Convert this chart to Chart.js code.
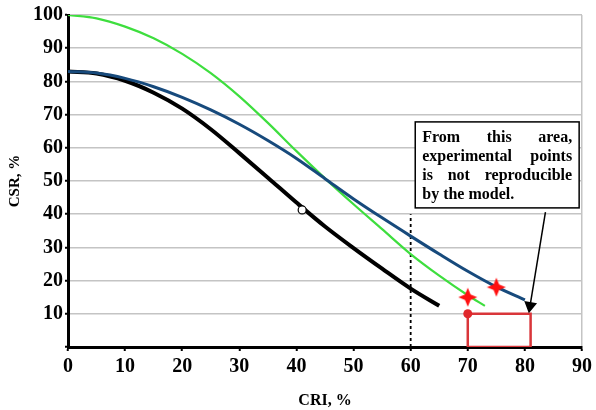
<!DOCTYPE html>
<html>
<head>
<meta charset="utf-8">
<script src="https://cdn.jsdelivr.net/npm/chart.js@4.4.1/dist/chart.umd.min.js"></script>
<style>
  html, body { margin: 0; padding: 0; background: #fff; }
  #wrap { width: 596px; height: 410px; position: relative; }
</style>
</head>
<body>
<div id="wrap"><canvas id="chart"></canvas></div>
<script>
// CSR vs CRI model curves
const xTicks = [0, 10, 20, 30, 40, 50, 60, 70, 80, 90];
const yTicks = [10, 20, 30, 40, 50, 60, 70, 80, 90, 100];

const blackX = [0, 5, 10, 15, 20, 25, 30, 35, 40, 45, 50, 55, 60, 65];
const blackY = [83, 82.4, 80.2, 76.6, 71.8, 65.6, 58.4, 51, 43.5, 36.3, 29.8, 23.6, 17.6, 12.4];

const blueX = [0, 5, 10, 15, 20, 25, 30, 35, 40, 45, 50, 55, 60, 65, 70, 75, 80];
const blueY = [83, 82.5, 80.9, 78.4, 75.2, 71.4, 67.1, 62.2, 56.8, 50.7, 44.6, 38.9, 33.4, 28, 22.8, 18.1, 14.2];

const greenX = [0, 5, 10, 15, 20, 25, 30, 35, 40, 45, 50, 55, 60, 65, 70, 73];
const greenY = [100, 99, 96.5, 93, 88.3, 82.5, 75.5, 67.5, 59, 50.8, 43, 35.5, 28, 21.5, 15.6, 12.4];

const starX = [70, 75];
const starY = [15, 18];
const dotX = [70];
const dotY = [10];
const openX = [41];
const openY = [41.3];
const limitX = [60, 60];
const limitY = [0, 40];
const areaX = [70, 70, 81, 81, 70];
const areaY = [0, 10, 10, 0, 0];
const arrowX = [83.6, 80.9];
const arrowY = [40.6, 12.4];

const noteLines = ["From this area,", "experimental points", "is not reproducible", "by the model."];
const noteBox = { x0: 60.8, x1: 89.5, y0: 67.8, y1: 41.9 };

const SERIF = "'Liberation Serif', 'Times New Roman', serif";

function pts(xs, ys) { return xs.map((x, i) => ({ x, y: ys[i] })); }

// 4-pointed red star used for the experimental points
function makeStar(size, color) {
  const c = document.createElement('canvas');
  c.width = size; c.height = size;
  const g = c.getContext('2d');
  const m = size / 2, r = size / 2 - 0.5, ri = r * 0.42;
  g.fillStyle = color;
  g.beginPath();
  for (let i = 0; i < 8; i++) {
    const a = -Math.PI / 2 + i * Math.PI / 4;
    const rr = i % 2 === 0 ? r : ri;
    const px = m + Math.cos(a) * rr, py = m + Math.sin(a) * rr;
    if (i === 0) g.moveTo(px, py); else g.lineTo(px, py);
  }
  g.closePath();
  g.fill();
  return c;
}
const starImg = makeStar(20, '#ff1010');

// note box with justified text
const notePlugin = {
  id: 'note',
  afterDatasetsDraw(chart) {
    const { ctx, scales: { x, y } } = chart;
    const L = x.getPixelForValue(noteBox.x0), R = x.getPixelForValue(noteBox.x1);
    const T = y.getPixelForValue(noteBox.y0), B = y.getPixelForValue(noteBox.y1);
    ctx.save();
    ctx.fillStyle = '#fff';
    ctx.fillRect(L, T, R - L, B - T);
    ctx.strokeStyle = '#000';
    ctx.lineWidth = 1.5;
    ctx.strokeRect(L, T, R - L, B - T);
    ctx.fillStyle = '#000';
    ctx.font = "bold 16px " + SERIF;
    ctx.textBaseline = 'middle';
    const pad = 7, lh = 19;
    const w = R - L - 2 * pad;
    noteLines.forEach((line, i) => {
      const ly = T + 15.5 + i * lh;
      const words = line.split(' ');
      ctx.textAlign = 'left';
      if (i === noteLines.length - 1 || words.length === 1) {
        ctx.fillText(line, L + pad, ly);
        return;
      }
      const tw = words.reduce((s, wd) => s + ctx.measureText(wd).width, 0);
      const gap = (w - tw) / (words.length - 1);
      let cx = L + pad;
      words.forEach(wd => {
        ctx.fillText(wd, cx, ly);
        cx += ctx.measureText(wd).width + gap;
      });
    });
    ctx.restore();
  }
};

const ctx = document.getElementById('chart');
new Chart(ctx, {
  type: 'scatter',
  data: {
    datasets: [
      { data: pts(areaX, areaY), showLine: true, borderColor: '#d9363a', borderWidth: 2.5, pointRadius: 0, tension: 0, order: 6 },
      { data: pts(limitX, limitY), showLine: true, borderColor: '#000', borderWidth: 1.8, borderDash: [3, 3], pointRadius: 0, order: 7 },
      { data: pts(blackX, blackY), showLine: true, borderColor: '#000', borderWidth: 4, pointRadius: 0, cubicInterpolationMode: 'monotone', order: 5 },
      { data: pts(greenX, greenY), showLine: true, borderColor: '#3ede3e', borderWidth: 2.2, pointRadius: 0, cubicInterpolationMode: 'monotone', order: 4 },
      { data: pts(blueX, blueY), showLine: true, borderColor: '#174a7c', borderWidth: 3, pointRadius: 0, cubicInterpolationMode: 'monotone', order: 3 },
      { data: pts(starX, starY), pointStyle: starImg, pointRadius: 10, order: 1 },
      { data: pts(dotX, dotY), pointStyle: 'circle', pointRadius: 4.5, backgroundColor: '#e0282c', borderColor: '#e0282c', borderWidth: 0, order: 1 },
      { data: pts(openX, openY), pointStyle: 'circle', pointRadius: 4, backgroundColor: '#fff', borderColor: '#000', borderWidth: 1.2, order: 1 },
      { data: pts(arrowX, arrowY), showLine: true, borderColor: '#000', borderWidth: 1.5,
        pointRadius: [0, 6], pointStyle: 'triangle', rotation: 189.4, backgroundColor: '#000', pointBorderColor: '#000', order: 0 }
    ]
  },
  options: {
    responsive: true,
    maintainAspectRatio: false,
    animation: false,
    events: [],
    layout: { padding: { top: 15, right: 11, left: 0, bottom: 0 } },
    plugins: { legend: { display: false }, tooltip: { enabled: false } },
    scales: {
      x: {
        type: 'linear', min: 0, max: 90,
        afterFit: s => { s.height = 63; },
        afterBuildTicks: s => { s.ticks = xTicks.map(v => ({ value: v })); },
        grid: {
          color: c => (c.tick && c.tick.value === 90 ? '#c4c4c4' : 'rgba(0,0,0,0)'),
          tickColor: '#000', tickLength: 4, lineWidth: 1.5, tickWidth: 2
        },
        border: { color: '#000', width: 3 },
        ticks: { color: '#000', padding: 4, maxRotation: 0, font: { family: SERIF, size: 20, weight: 'bold' } },
        title: { display: true, text: 'CRI, %', color: '#000', padding: { top: 0, bottom: 0 }, font: { family: SERIF, size: 16, weight: 'bold' } }
      },
      y: {
        type: 'linear', min: 0, max: 100,
        afterFit: s => { s.width = 68; },
        afterBuildTicks: s => { s.ticks = [0].concat(yTicks).map(v => ({ value: v })); },
        grid: { color: '#c4c4c4', lineWidth: 1.5, tickColor: '#000', tickLength: 3, tickWidth: 2 },
        border: { color: '#000', width: 3 },
        ticks: { color: '#000', padding: 2, callback: v => (v === 0 ? '' : v), font: { family: SERIF, size: 20, weight: 'bold' } },
        title: { display: true, text: 'CSR, %', color: '#000', padding: { top: 6, bottom: 0 }, font: { family: SERIF, size: 15, weight: 'bold' } }
      }
    }
  },
  plugins: [notePlugin]
});
</script>
</body>
</html>
